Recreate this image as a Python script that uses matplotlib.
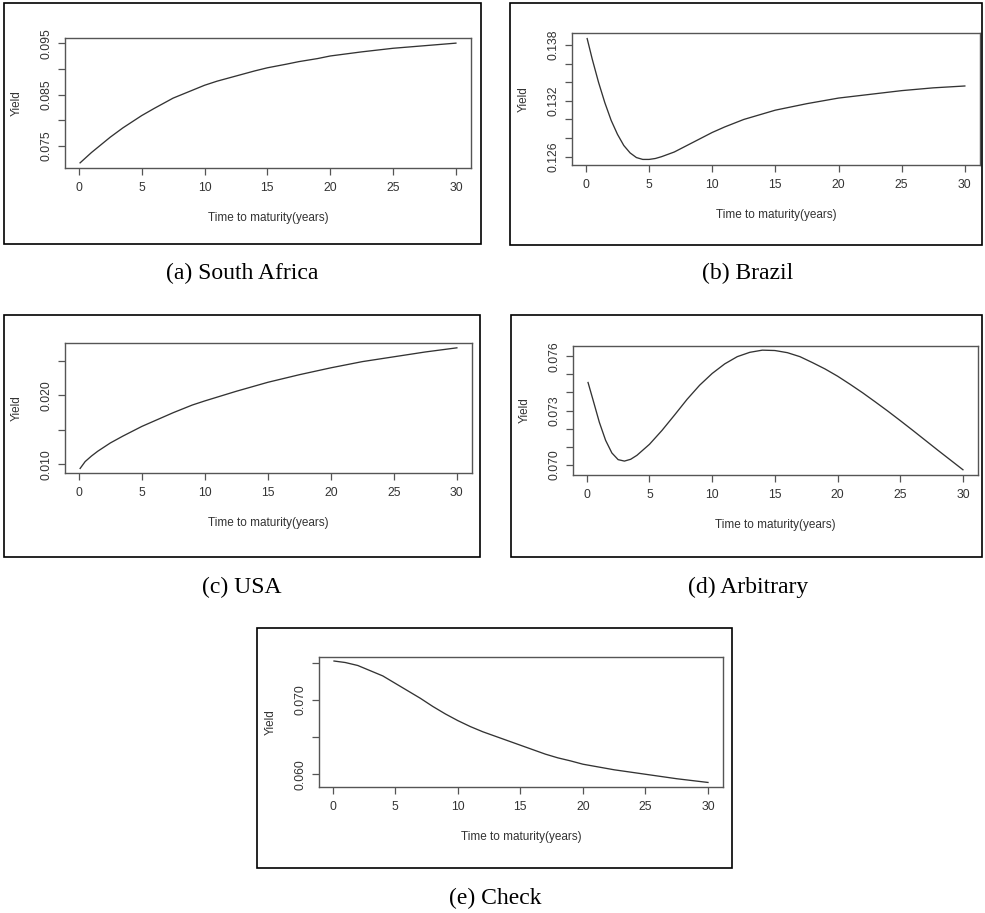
import matplotlib.pyplot as plt
from matplotlib.patches import Rectangle

W, H = 985, 913

# values (time in years, yield)
t_sa = [0.1, 1, 2, 2.5, 3.5, 5, 6, 7.5, 9, 10, 11, 12.5, 14, 15, 16.5,
        17.5, 19, 20, 22.5, 25, 27.5, 30]
y_sa = [0.0717, 0.0737, 0.0757, 0.0767, 0.0785, 0.0809, 0.0823, 0.0843,
        0.0858, 0.0868, 0.0876, 0.0886, 0.0896, 0.0902, 0.0909, 0.0914,
        0.0920, 0.0925, 0.0933, 0.0940, 0.0945, 0.0950]

t_br = [0.1, 0.5, 1, 1.5, 2, 2.5, 3, 3.5, 4, 4.5, 5, 5.5, 6, 7, 8, 9, 10,
        11, 12.5, 14, 15, 17.5, 20, 22.5, 25, 27.5, 30]
y_br = [0.1387, 0.1365, 0.1340, 0.1318, 0.1299, 0.1284, 0.1272, 0.1264,
        0.1259, 0.1257, 0.1257, 0.1258, 0.1260, 0.1265, 0.1272, 0.1279,
        0.1286, 0.1292, 0.1300, 0.1306, 0.1310, 0.1317, 0.1323, 0.1327,
        0.1331, 0.1334, 0.1336]

t_us = [0.1, 0.5, 1, 1.5, 2, 2.5, 3.5, 5, 6, 7.5, 9, 10, 12.5, 15, 17.5,
        20, 22.5, 25, 27.5, 30]
y_us = [0.0094, 0.0104, 0.0112, 0.0119, 0.0125, 0.0131, 0.0141, 0.0155,
        0.0163, 0.0175, 0.0186, 0.0192, 0.0206, 0.0219, 0.0230, 0.0240,
        0.0249, 0.0256, 0.0263, 0.0269]

t_ar = [0.1, 0.5, 1, 1.5, 2, 2.5, 3, 3.5, 4, 5, 6, 7, 8, 9, 10, 11, 12,
        13, 14, 15, 16, 17, 18, 19, 20, 21, 22, 23, 24, 25, 26, 27, 28,
        29, 30]
y_ar = [0.07455, 0.07358, 0.07235, 0.07135, 0.07065, 0.07028, 0.07020,
        0.07030, 0.07052, 0.07113, 0.07190, 0.07275, 0.07362, 0.07440,
        0.07505, 0.07558, 0.07598, 0.07622, 0.07634, 0.07632, 0.07620,
        0.07598, 0.07565, 0.07530, 0.07490, 0.07445, 0.07398, 0.07348,
        0.07297, 0.07244, 0.07190, 0.07135, 0.07080, 0.07026, 0.06972]

t_ch = [0.1, 1, 2, 3, 4, 5, 6, 7, 8, 9, 10, 11, 12, 13, 14, 15, 16, 17,
        18, 19, 20, 22.5, 25, 27.5, 30]
y_ch = [0.0752, 0.0750, 0.0746, 0.0739, 0.0732, 0.0722, 0.0712, 0.0702,
        0.0691, 0.0681, 0.0672, 0.0664, 0.0657, 0.0651, 0.0645, 0.0639,
        0.0633, 0.0627, 0.0622, 0.0618, 0.06135, 0.0606, 0.0600, 0.0594,
        0.0589]

captions = ["(a) South Africa", "(b) Brazil", "(c) USA", "(d) Arbitrary", "(e) Check"]

panels = [
    # inner box (l, t, r, b) and outer frame in pixels, caption centre, y range, ticks
    dict(t=t_sa, y=y_sa, box=(65, 38, 471, 168), frame=(4, 3, 481, 244), cap=(242, 273),
         ylim=(0.0707, 0.0960), ticks=[0.075, 0.080, 0.085, 0.090, 0.095],
         labels=["0.075", "", "0.085", "", "0.095"]),
    dict(t=t_br, y=y_br, box=(572, 33, 980, 165), frame=(510, 3, 982, 245), cap=(748, 273),
         ylim=(0.1251, 0.1393), ticks=[0.126, 0.128, 0.130, 0.132, 0.134, 0.136, 0.138],
         labels=["0.126", "", "", "0.132", "", "", "0.138"]),
    dict(t=t_us, y=y_us, box=(65, 343, 472, 473), frame=(4, 315, 480, 557), cap=(242, 587),
         ylim=(0.00874, 0.0276), ticks=[0.010, 0.015, 0.020, 0.025],
         labels=["0.010", "", "0.020", ""]),
    dict(t=t_ar, y=y_ar, box=(573, 346, 978, 475), frame=(511, 315, 982, 557), cap=(748, 587),
         ylim=(0.06943, 0.07657), ticks=[0.070, 0.071, 0.072, 0.073, 0.074, 0.075, 0.076],
         labels=["0.070", "", "", "0.073", "", "", "0.076"]),
    dict(t=t_ch, y=y_ch, box=(319, 657, 723, 787), frame=(257, 628, 732, 868), cap=(495, 898),
         ylim=(0.05829, 0.07574), ticks=[0.060, 0.065, 0.070, 0.075],
         labels=["0.060", "", "0.070", ""]),
]

fig = plt.figure(figsize=(W / 100, H / 100), dpi=100)
fig.patch.set_facecolor("white")

grey = "#555555"
for p, cap in zip(panels, captions):
    fl, ft, fr, fb = p["frame"]
    fig.patches.append(Rectangle((fl / W, 1 - fb / H), (fr - fl) / W, (fb - ft) / H,
                                 transform=fig.transFigure, fill=False,
                                 edgecolor="black", linewidth=1.2))
    l, t, r, b = p["box"]
    ax = fig.add_axes([l / W, 1 - b / H, (r - l) / W, (b - t) / H])
    ax.plot(p["t"], p["y"], color="#333333", linewidth=0.95,
            solid_joinstyle="round")
    ax.set_xlim(-1.1, 31.2)
    ax.set_ylim(*p["ylim"])
    ax.set_xticks([0, 5, 10, 15, 20, 25, 30])
    ax.set_yticks(p["ticks"])
    ax.set_yticklabels(p["labels"], rotation=90, va="center")
    for s in ax.spines.values():
        s.set_color(grey)
        s.set_linewidth(1.0)
    ax.tick_params(colors=grey, labelcolor="#333333", length=5, width=0.9,
                   labelsize=8.8, direction="out")
    ax.tick_params(axis="x", pad=5)
    ax.tick_params(axis="y", pad=4)
    for lab in ax.get_xticklabels() + ax.get_yticklabels():
        lab.set_family("Liberation Sans")
    ax.set_xlabel("Time to maturity(years)", fontsize=8.5, family="Liberation Sans",
                  color="#333333", va="center")
    ax.set_ylabel("Yield", fontsize=8.5, family="Liberation Sans",
                  color="#333333", va="center")
    ax.xaxis.set_label_coords(0.5, -50 / (b - t))
    ax.yaxis.set_label_coords(-48 / (r - l), 0.5)
    cx, cy = p["cap"]
    fig.text(cx / W, 1 - cy / H, cap, ha="center", va="center",
             fontsize=17, family="Liberation Serif")

plt.savefig("out.png", dpi=100)
